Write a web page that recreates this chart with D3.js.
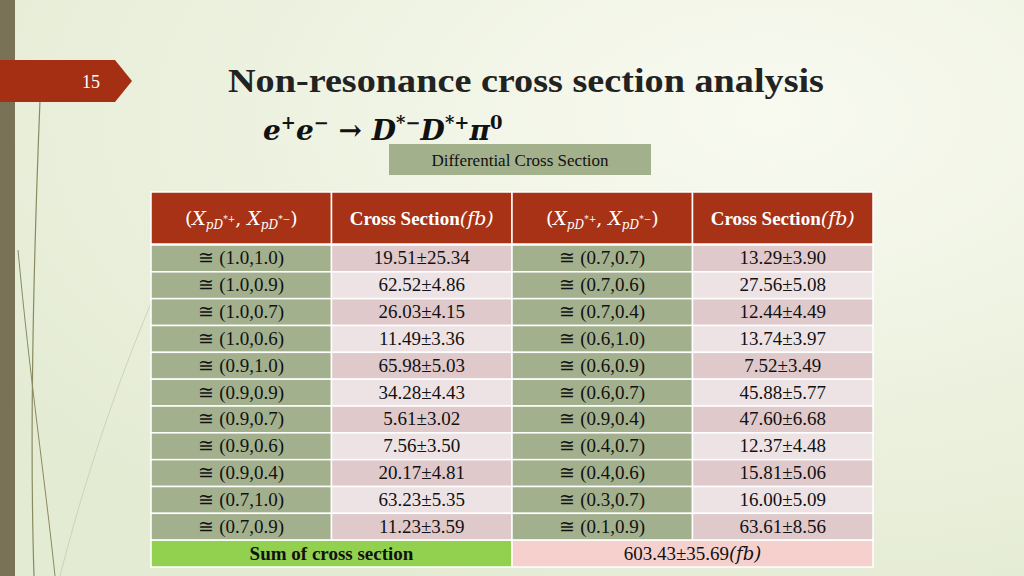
<!DOCTYPE html>
<html><head><meta charset="utf-8">
<script src="https://cdn.jsdelivr.net/npm/d3@7"></script>
<style>body{margin:0;}svg{display:block;}</style>
</head><body>
<script>
const leftBins=["(1.0,1.0)","(1.0,0.9)","(1.0,0.7)","(1.0,0.6)","(0.9,1.0)","(0.9,0.9)","(0.9,0.7)","(0.9,0.6)","(0.9,0.4)","(0.7,1.0)","(0.7,0.9)"];
const leftVals=[19.51,62.52,26.03,11.49,65.98,34.28,5.61,7.56,20.17,63.23,11.23];
const leftErrs=[25.34,4.86,4.15,3.36,5.03,4.43,3.02,3.50,4.81,5.35,3.59];
const rightBins=["(0.7,0.7)","(0.7,0.6)","(0.7,0.4)","(0.6,1.0)","(0.6,0.9)","(0.6,0.7)","(0.9,0.4)","(0.4,0.7)","(0.4,0.6)","(0.3,0.7)","(0.1,0.9)"];
const rightVals=[13.29,27.56,12.44,13.74,7.52,45.88,47.60,12.37,15.81,16.00,63.61];
const rightErrs=[3.90,5.08,4.49,3.97,3.49,5.77,6.68,4.48,5.06,5.09,8.56];
const sumVal=603.43, sumErr=35.69;

const W=1024,H=576;
const svg=d3.select("body").append("svg").attr("width",W).attr("height",H);
const defs=svg.append("defs");
const g=defs.append("radialGradient").attr("id","bg").attr("cx","0.75").attr("cy","0.2").attr("r","0.9");
g.append("stop").attr("offset","0").attr("stop-color","#f8faf0");
g.append("stop").attr("offset","1").attr("stop-color","#e4ebd3");
svg.append("rect").attr("width",W).attr("height",H).attr("fill","url(#bg)");
svg.append("rect").attr("width",15).attr("height",H).attr("fill","#7a7256");
// decorative thin lines
svg.append("path").attr("d","M40,100 C32,300 30,450 34,576").attr("stroke","#8a8a60").attr("fill","none").attr("stroke-width",1.2);
svg.append("path").attr("d","M18,250 C30,380 45,480 55,576").attr("stroke","#8a8a60").attr("fill","none").attr("stroke-width",1);
svg.append("path").attr("d","M60,576 C100,420 150,300 180,240").attr("stroke","#c8cbb5").attr("fill","none").attr("stroke-width",0.8);
// tab
svg.append("path").attr("d","M0,60 L115,60 L132,81 L115,102 L0,102 Z").attr("fill","#a52f13");
svg.append("text").attr("x",91).attr("y",88).attr("text-anchor","middle").attr("fill","#fff")
 .attr("font-family","Liberation Serif").attr("font-size",18).text("15");
// title
svg.append("text").attr("x",228).attr("y",92).attr("font-family","Liberation Serif").attr("font-weight","bold")
 .attr("font-size",34).attr("fill","#222").attr("textLength",596).attr("lengthAdjust","spacingAndGlyphs").text("Non-resonance cross section analysis");
const eq=svg.append("text").attr("x",263).attr("y",140).attr("font-family","DejaVu Serif").attr("font-weight","bold")
 .attr("font-style","italic").attr("font-size",28).attr("fill","#111");
eq.append("tspan").text("e");eq.append("tspan").attr("dy",-11).attr("font-size",18).text("+");
eq.append("tspan").attr("dy",11).text("e");eq.append("tspan").attr("dy",-11).attr("font-size",18).text("−");
eq.append("tspan").attr("dy",11).attr("font-style","normal").text(" → ");
eq.append("tspan").text("D");eq.append("tspan").attr("dy",-11).attr("font-size",18).text("*−");
eq.append("tspan").attr("dy",11).text("D");eq.append("tspan").attr("dy",-11).attr("font-size",18).text("*+");
eq.append("tspan").attr("dy",11).text("π");eq.append("tspan").attr("dy",-11).attr("font-size",18).attr("font-style","normal").text("0");
svg.append("rect").attr("x",389).attr("y",144).attr("width",262).attr("height",31).attr("fill","#a3b08c");
svg.append("text").attr("x",520).attr("y",166).attr("text-anchor","middle").attr("font-family","Liberation Serif")
 .attr("font-size",17).attr("fill","#111").text("Differential Cross Section");

// table
const x=d3.scaleBand().domain([0,1,2,3]).range([151,873]);
const rowsIdx=d3.range(12);
const y=d3.scaleBand().domain(rowsIdx).range([245,567]);
const T=svg.append("g");
function cell(c,r,fill,w){T.append("rect").attr("x",x(c)).attr("y",y(r)).attr("width",x.bandwidth()*(w||1)).attr("height",y.bandwidth())
 .attr("fill",fill).attr("stroke","#fff").attr("stroke-width",1.5);}
function txt(cx,r,s,opt){const t=T.append("text").attr("x",cx).attr("y",y(r)+y.bandwidth()/2+6).attr("text-anchor","middle")
 .attr("font-family","Liberation Serif").attr("font-size",19).attr("fill","#111");
 if(opt&&opt.bold)t.attr("font-weight","bold");t.text(s);return t;}
// header
[0,1,2,3].forEach(c=>T.append("rect").attr("x",x(c)).attr("y",192).attr("width",x.bandwidth()).attr("height",52)
 .attr("fill","#a83216").attr("stroke","#fff").attr("stroke-width",1.5));
[0,2].forEach(c=>{const t=T.append("text").attr("x",x(c)+x.bandwidth()/2).attr("y",225).attr("text-anchor","middle")
 .attr("font-family","DejaVu Serif").attr("font-size",19).attr("fill","#fff");
 t.append("tspan").text("(");t.append("tspan").attr("font-style","italic").text("X");
 t.append("tspan").attr("dy",4).attr("font-size",12).attr("font-style","italic").text("pD");
 t.append("tspan").attr("dy",-7).attr("font-size",9).text(c==0?"*+":"*+");
 t.append("tspan").attr("dy",3).text(", ");t.append("tspan").attr("font-style","italic").text("X");
 t.append("tspan").attr("dy",4).attr("font-size",12).attr("font-style","italic").text("pD");
 t.append("tspan").attr("dy",-7).attr("font-size",9).text("*−");
 t.append("tspan").attr("dy",3).text(")");});
[1,3].forEach(c=>{const t=T.append("text").attr("x",x(c)+x.bandwidth()/2).attr("y",225).attr("text-anchor","middle")
 .attr("font-family","Liberation Serif").attr("font-size",19).attr("font-weight","bold").attr("fill","#fff");
 t.append("tspan").text("Cross Section");t.append("tspan").attr("font-weight","normal").attr("font-family","DejaVu Serif").attr("font-style","italic").text("(fb)");});
const fmt=d3.format(".2f");
leftBins.forEach((b,i)=>{
 const pink=i%2==0?"#dfc9cb":"#ede3e5";
 cell(0,i,"#a3b08e");cell(1,i,pink);cell(2,i,"#a3b08e");cell(3,i,pink);
 txt(x(0)+x.bandwidth()/2,i,"≅ "+b);
 txt(x(1)+x.bandwidth()/2,i,fmt(leftVals[i])+"±"+fmt(leftErrs[i]));
 txt(x(2)+x.bandwidth()/2,i,"≅ "+rightBins[i]);
 txt(x(3)+x.bandwidth()/2,i,fmt(rightVals[i])+"±"+fmt(rightErrs[i]));
});
cell(0,11,"#92d050",2);cell(2,11,"#f6d0cd",2);
txt(x(1),11,"Sum of cross section",{bold:true});
const st=txt(x(3),11,fmt(sumVal)+"±"+fmt(sumErr));
st.append("tspan").attr("font-family","DejaVu Serif").attr("font-style","italic").attr("font-size",18).text("(fb)");
</script>
</body></html>
